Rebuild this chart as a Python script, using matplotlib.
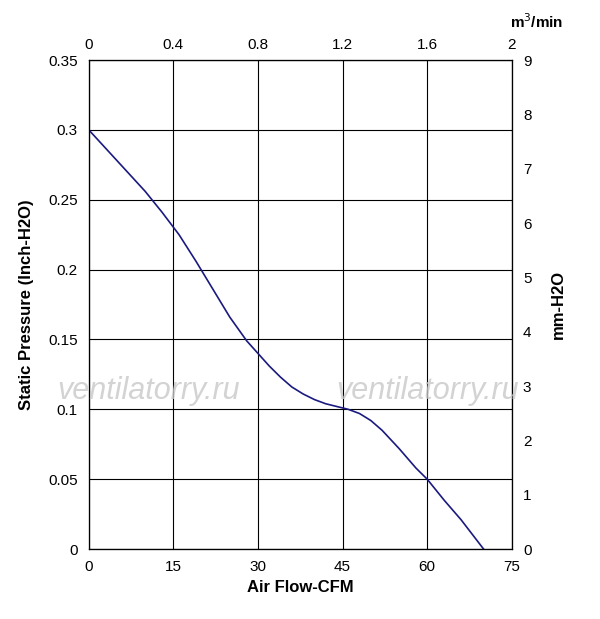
import numpy as np
import matplotlib
matplotlib.use('Agg')
import matplotlib.pyplot as plt

plt.rcParams['font.family'] = ['Liberation Sans', 'DejaVu Sans']

# fan curve
cfm = [0, 5, 10, 13, 16, 19, 22, 25, 28, 30, 32, 34, 36, 38, 40, 42, 44, 46, 48,
       50, 52, 55, 58, 60, 63, 66, 70]
pressure = [0.300, 0.278, 0.256, 0.241, 0.225, 0.206, 0.186, 0.166, 0.149, 0.140,
            0.131, 0.123, 0.116, 0.111, 0.107, 0.104, 0.102, 0.100, 0.097,
            0.092, 0.085, 0.072, 0.058, 0.050, 0.035, 0.021, 0.0]

x_ticks = [0, 15, 30, 45, 60, 75]
y_ticks = [0, 0.05, 0.1, 0.15, 0.2, 0.25, 0.3, 0.35]
top_ticks = [0, 0.4, 0.8, 1.2, 1.6, 2]
right_ticks = list(range(10))

fig = plt.figure(figsize=(6, 6.19), dpi=100)
ax = fig.add_axes([0.148, 0.113, 0.705, 0.79])
ax.plot(cfm, pressure, color='#1a1a80', lw=1.2)
ax.set_xlim(0, 75)
ax.set_ylim(0, 0.35)
ax.set_xticks(x_ticks)
ax.set_yticks(y_ticks)
ax.set_yticklabels(['0', '0.05', '0.1', '0.15', '0.2', '0.25', '0.3', '0.35'])
ax.grid(True, color='black', lw=0.8)
ax.tick_params(length=0, labelsize=11, pad=8)
for s in ax.spines.values():
    s.set_linewidth(0.8)
ax.set_xlabel('Air Flow-CFM', fontsize=12, fontweight='bold', labelpad=4)
ax.set_ylabel('Static Pressure (Inch-H2O)', fontsize=12, fontweight='bold', labelpad=10)

top = ax.twiny()
top.set_xlim(0, 2)
top.set_xticks(top_ticks)
top.set_xticklabels(['0', '0.4', '0.8', '1.2', '1.6', '2'])
top.tick_params(length=0, labelsize=11, pad=6)

right = ax.twinx()
right.set_ylim(0, 9)
right.set_yticks(right_ticks)
right.tick_params(length=0, labelsize=11, pad=8)
right.set_ylabel('mm-H2O', fontsize=12, fontweight='bold', labelpad=14)

fig.text(0.895, 0.955, 'm$^3$/min', fontsize=11, fontweight='bold', ha='center')

for xp in [0.095, 0.56]:
    fig.text(xp, 0.355, 'ventilatorry.ru', fontsize=22, style='italic',
             color='#c8c8c8', alpha=0.8)

fig.savefig('out.png')
